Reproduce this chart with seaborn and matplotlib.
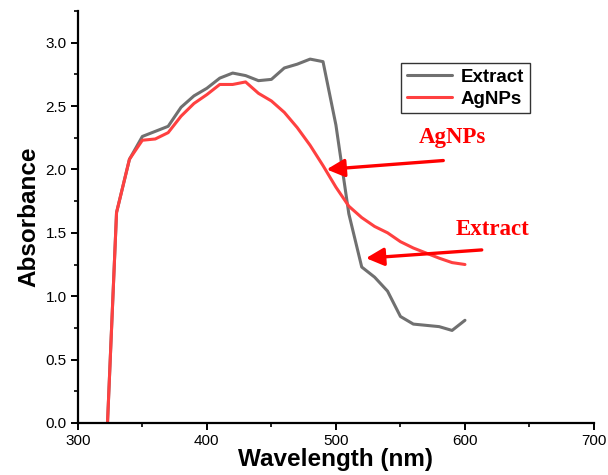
import numpy as np
import pandas as pd
import matplotlib
matplotlib.use("Agg")
import matplotlib.pyplot as plt
import seaborn as sns

# UV-Vis absorbance spectra
wavelength = [323, 330, 340, 350, 360, 370, 380, 390, 400, 410, 420, 430, 440,
              450, 460, 470, 480, 490, 500, 510, 520, 530, 540, 550, 560, 570,
              580, 590, 600]
extract = [0.00, 1.66, 2.08, 2.26, 2.30, 2.34, 2.49, 2.58, 2.64, 2.72, 2.76, 2.74,
           2.70, 2.71, 2.80, 2.83, 2.87, 2.85, 2.35, 1.65, 1.23, 1.15, 1.04, 0.84,
           0.78, 0.77, 0.76, 0.73, 0.81]
agnps = [0.00, 1.66, 2.08, 2.23, 2.24, 2.29, 2.42, 2.52, 2.59, 2.67, 2.67, 2.69,
         2.60, 2.54, 2.45, 2.33, 2.19, 2.03, 1.86, 1.71, 1.62, 1.55, 1.50, 1.43,
         1.38, 1.34, 1.30, 1.265, 1.25]
series_names = ["Extract", "AgNPs"]
series_colors = ["#707070", "#ff4040"]

df = pd.DataFrame({
    "Wavelength": wavelength * 2,
    "Absorbance": extract + agnps,
    "Sample": [series_names[0]] * len(wavelength) + [series_names[1]] * len(wavelength),
})

sns.set_theme(style="ticks")
plt.rcParams["font.family"] = ["Liberation Sans", "DejaVu Sans"]
plt.rcParams["text.color"] = "black"
plt.rcParams["axes.labelcolor"] = "black"
plt.rcParams["xtick.color"] = "black"
plt.rcParams["ytick.color"] = "black"

fig = plt.figure(figsize=(6.08, 4.75), dpi=100)
ax = fig.add_axes([0.128, 0.1095, 0.849, 0.8675])

sns.lineplot(data=df, x="Wavelength", y="Absorbance", hue="Sample",
             hue_order=series_names, palette=series_colors, linewidth=2.2,
             sort=False, ax=ax)

ax.set_xlim(300, 700)
ax.set_ylim(0, 3.25)
ax.set_xticks([300, 400, 500, 600, 700])
ax.set_xticks([350, 450, 550, 650], minor=True)
ax.set_yticks([0.0, 0.5, 1.0, 1.5, 2.0, 2.5, 3.0])
ax.set_yticks([0.25, 0.75, 1.25, 1.75, 2.25, 2.75, 3.25], minor=True)
ax.set_yticklabels([f"{v:.1f}" for v in [0.0, 0.5, 1.0, 1.5, 2.0, 2.5, 3.0]])

for side in ["top", "right"]:
    ax.spines[side].set_visible(False)
for side in ["left", "bottom"]:
    ax.spines[side].set_linewidth(1.6)
    ax.spines[side].set_color("black")

ax.tick_params(axis="both", which="major", direction="out", length=5, width=1.4,
               labelsize=11, labelcolor="black", colors="black", pad=3)
ax.tick_params(axis="both", which="minor", direction="out", length=3, width=1.2,
               colors="black")

ax.set_xlabel("Wavelength (nm)", fontsize=17.5, fontweight="bold", labelpad=0,
              color="black")
ax.set_ylabel("Absorbance", fontsize=17.5, fontweight="bold", labelpad=4,
              color="black")

leg = ax.legend(loc="upper left", bbox_to_anchor=(0.627, 0.873), frameon=True,
                fancybox=False, edgecolor="black",
                prop={"weight": "bold", "size": 13.5}, handlelength=2.4,
                handletextpad=0.45, borderpad=0.3, labelspacing=0.25,
                borderaxespad=0)
leg.get_frame().set_linewidth(1.0)
for t in leg.get_texts():
    t.set_color("black")

# Arrows labelling each curve
ann_font = dict(family=["Liberation Serif", "DejaVu Serif"], fontsize=16.5,
                fontweight="bold", color="#ff0000")
arrow_style = dict(arrowstyle="-|>,head_length=0.9,head_width=0.45",
                   color="#ff0000", lw=2.4, shrinkA=0, shrinkB=0)
ax.annotate("", xy=(492.8, 2.00), xytext=(583.2, 2.07), arrowprops=arrow_style)
ax.annotate("", xy=(523.3, 1.30), xytext=(613.0, 1.365), arrowprops=arrow_style)
ax.text(590, 2.25, "AgNPs", ha="center", va="center", **ann_font)
ax.text(621.7, 1.53, "Extract", ha="center", va="center", **ann_font)

fig.savefig("out.png", dpi=100)
